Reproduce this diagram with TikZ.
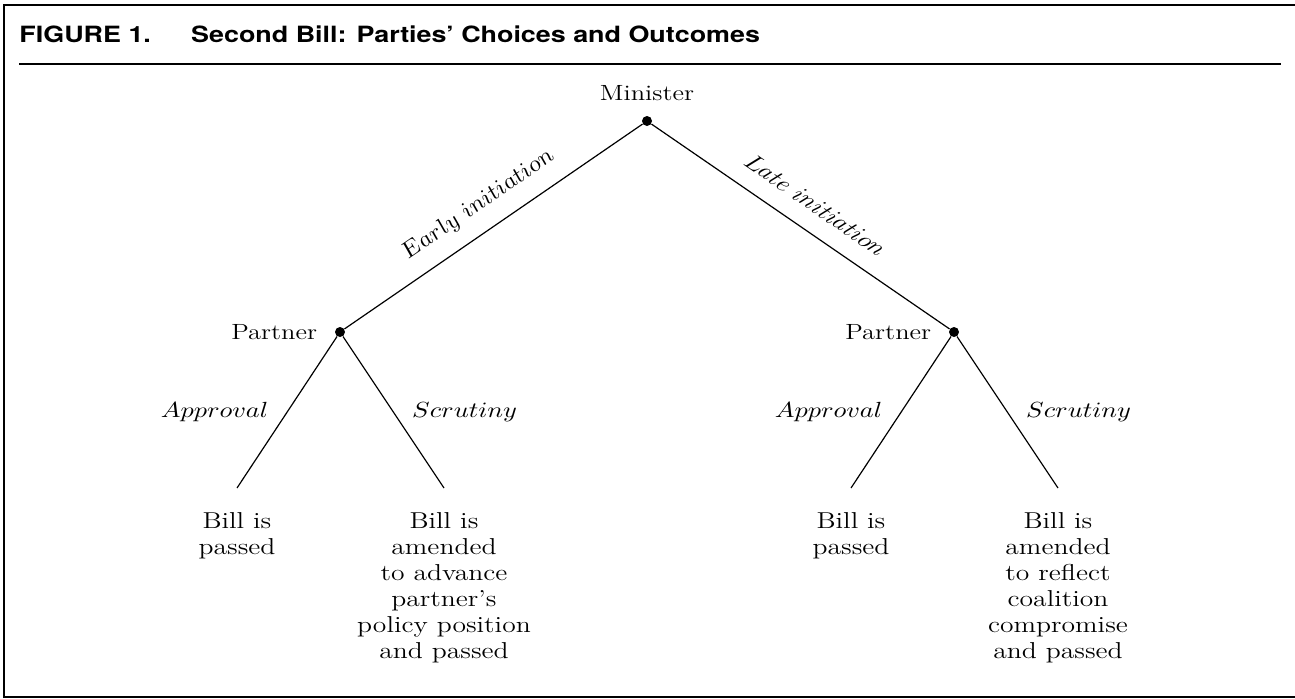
\documentclass[tikz,border=0pt]{standalone}
\usepackage{fontspec}
\newfontfamily\headfont{TeX Gyre Heros}
\usetikzlibrary{positioning}

\tikzset{
  dot/.style={circle, fill=black, inner sep=0pt, minimum size=5pt},
  lab/.style={inner sep=0pt, xscale=1.2, font=\fontsize{11}{13}\selectfont},
  elab/.style={inner sep=0pt, xscale=1.2, font=\fontsize{10.5}{13}\selectfont},
  leaf/.style={inner sep=0pt, xscale=1.2, font=\fontsize{11.5}{13}\selectfont,
    align=center, anchor=north, inner ysep=12pt},
  branch/.style={line width=0.6pt},
}

\begin{document}
\begin{tikzpicture}[x=0.5pt, y=-0.5pt]
\useasboundingbox (0,0) rectangle (1295,698);

% frame and heading
\draw[line width=1.2pt] (1295,5) -- (4,5) -- (4,697) -- (1295,697);
\draw[line width=1pt] (19,64) -- (1281,64);
\node[anchor=base west, inner sep=0pt, xscale=1.2, font=\headfont\bfseries\fontsize{11.2}{13}\selectfont] (title) at (19,42) {FIGURE 1.\hspace{1.5em}Second Bill: Parties’ Choices and Outcomes};

% decision nodes
\node[dot] (mn) at (647,121) {};
\node[dot] (pl) at (340,332) {};
\node[dot] (pr) at (954,332) {};
\node[lab, above=7pt of mn] (mnlab) {Minister};
\node[lab, left=8.5pt of pl] (pllab) {Partner};
\node[lab, left=8.5pt of pr] (prlab) {Partner};

% outcomes
\node[leaf] (l1) at (237,488) {Bill is\\passed};
\node[leaf] (l2) at (444,488) {Bill is\\amended\\to advance\\partner’s\\policy position\\and passed};
\node[leaf] (l3) at (851,488) {Bill is\\passed};
\node[leaf] (l4) at (1058,488) {Bill is\\amended\\to reflect\\coalition\\compromise\\and passed};

% branches
\draw[branch] (mn) -- (pl);
\draw[branch] (mn) -- (pr);
\node[elab, rotate=39.5] (early) at (478,205) {$Early\ initiation$};
\node[elab, rotate=-39.5] (late) at (816,205) {$Late\ initiation$};

\draw[branch] (pl) -- (l1.north) node[midway, left=9pt, elab] (appl) {$Approval$};
\draw[branch] (pl) -- (l2.north) node[midway, right=9pt, elab] (scrl) {$Scrutiny$};
\draw[branch] (pr) -- (l3.north) node[midway, left=9pt, elab] (appr) {$Approval$};
\draw[branch] (pr) -- (l4.north) node[midway, right=9pt, elab] (scrr) {$Scrutiny$};

\end{tikzpicture}
\end{document}
